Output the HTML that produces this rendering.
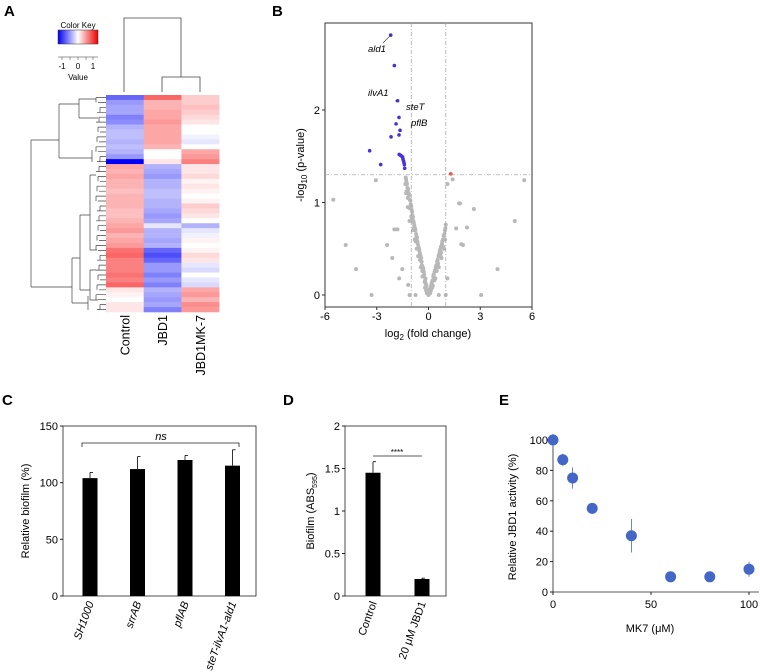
<!DOCTYPE html>
<html><head><meta charset="utf-8"><style>
body{margin:0;background:#fff;}
svg{display:block;font-family:"Liberation Sans",Arial,sans-serif;}
</style></head><body>
<svg id="fig" width="760" height="672" viewBox="0 0 760 672" xmlns="http://www.w3.org/2000/svg">
<g id="panelA"></g>
<g id="panelB"></g>
<g id="panelC"></g>
<g id="panelD"></g>
<g id="panelE"></g>
</svg>
<script>
// ---------- DATA ----------
const heatColumns = ["Control","JBD1","JBD1MK-7"];
const heatControl = [-0.6,-0.4,-0.35,-0.35,-0.5,-0.45,-0.3,-0.25,-0.25,-0.3,-0.25,-0.3,-0.4,-1.0,
 0.35,0.3,0.35,0.3,0.3,0.25,0.3,0.3,0.3,0.25,0.25,0.3,0.35,0.4,0.3,0.35,0.4,0.55,0.6,0.5,0.5,0.5,0.55,0.5,0.6,0.1,0.05,0.0,0.1,0.1];
const heatJBD1 = [0.6,0.3,0.3,0.35,0.35,0.4,0.35,0.35,0.35,0.35,0.3,0.0,0.0,0.1,
 -0.3,-0.35,-0.4,-0.3,-0.3,-0.25,-0.25,-0.3,-0.3,-0.35,-0.4,-0.35,-0.1,-0.3,-0.3,-0.35,-0.3,-0.6,-0.7,-0.6,-0.4,-0.4,-0.5,-0.4,-0.5,-0.3,-0.35,-0.4,-0.35,-0.5];
const heatMK7 = [0.2,0.2,0.25,0.2,0.15,0.1,0,0,-0.05,-0.1,0,0.35,0.4,0.5,
 0.1,0.1,0.15,0.05,0.1,0.05,0,0.05,0.2,0.15,0.1,0,-0.3,-0.1,-0.05,0.05,0,0.05,0.15,0.1,-0.1,-0.15,0,-0.1,-0.15,0.35,0.4,0.3,0.45,0.4];

const volcXTicks = [-6,-3,0,3,6];
const volcYTicks = [0,1,2];
const sigX = [-2.19,-1.98,-1.79,-1.71,-1.88,-1.65,-1.71,-2.17,-3.41,-2.77,-1.7,-1.62,-1.55,-1.5,-1.48,-1.45,-1.42,-1.4,-1.38];
const sigY = [2.81,2.48,2.10,1.92,1.85,1.78,1.73,1.71,1.56,1.41,1.52,1.51,1.50,1.49,1.47,1.45,1.43,1.41,1.37];
const upX = [1.29];
const upY = [1.31];
const nsX = [-0.05,-0.12,-0.2,-0.25,-0.3,-0.38,-0.42,-0.5,-0.55,-0.62,-0.66,-0.72,-0.78,-0.85,-0.9,-0.95,-1.0,-1.05,-1.12,-1.18,-1.25,-1.3,-0.45,-0.6,-0.75,-0.9,-1.0,-0.35,-0.2,-0.8,
 0.05,0.12,0.2,0.28,0.35,0.42,0.5,0.58,0.65,0.72,0.8,0.88,0.95,1.0,0.6,0.75,0.9,0.4,0.25,0,0.1,-0.1,
 -5.52,-4.8,-4.2,-3.3,-2.4,-2.1,-1.98,-1.8,-1.52,-1.7,-1.18,-1.1,-0.75,0.6,1.0,1.83,2.63,2.23,1.6,2.0,1.1,3.05,4.0,1.1,1.4,-3.05,5.0,5.55,1.77,1.9,-1.3,-1.2,-1.1,
 -0.08,-0.15,-0.1,-0.18,-0.27,-0.33,-0.22,-0.4,-0.47,-0.36,-0.53,-0.58,-0.5,-0.64,-0.7,-0.68,-0.76,-0.82,-0.74,-0.88,-0.93,-0.86,-0.98,-1.03,-0.96,-1.08,-1.15,-1.1,-1.22,-1.28,-1.2,-1.32,-1.27,-1.34,
 0.08,0.15,0.1,0.18,0.24,0.3,0.22,0.38,0.45,0.35,0.53,0.48,0.62,0.56,0.68,0.7,0.78,0.74,0.84,0.86,0.92,0.98,0.96,0.02,-0.02,0.06,-0.04,0.14,-0.14];
const nsY = [0.03,0.1,0.15,0.22,0.28,0.32,0.4,0.45,0.5,0.55,0.62,0.66,0.72,0.78,0.84,0.9,0.96,1.02,1.08,1.14,1.2,1.25,0.3,0.42,0.58,0.7,0.85,0.2,0.08,0.6,
 0.03,0.08,0.14,0.2,0.25,0.3,0.36,0.42,0.47,0.52,0.58,0.64,0.7,0.76,0.3,0.4,0.5,0.18,0.1,0,0.02,0.02,
 1.03,0.54,0.28,0,0.54,0.4,0.71,0.71,0.28,0.18,0.11,0,0,0,0,0.99,0.93,0.73,0.72,0.54,0.18,0,0.28,1.2,1.25,1.24,0.8,1.24,0.99,0.55,1.1,0.95,0.8,
 0.06,0.12,0.05,0.18,0.25,0.3,0.14,0.36,0.43,0.26,0.48,0.52,0.38,0.58,0.63,0.5,0.7,0.75,0.6,0.8,0.86,0.72,0.92,0.98,0.82,1.03,1.1,0.94,1.16,1.22,1.05,1.27,1.12,1.2,
 0.05,0.1,0.03,0.12,0.16,0.22,0.08,0.27,0.32,0.16,0.38,0.26,0.44,0.34,0.49,0.42,0.55,0.46,0.6,0.52,0.66,0.72,0.6,0.01,0.01,0.03,0.03,0.05,0.05];

const cCats = ["SH1000","srrAB","pflAB","steT-ilvA1-ald1"];
const cVals = [104,112,120,115];
const cErr = [5,11,4,14];
const cTicks = [0,50,100,150];

const dCats = ["Control","20 μM JBD1"];
const dVals = [1.45,0.2];
const dErr = [0.13,0.01];
const dTicks = [0,0.5,1,1.5,2];

const eX = [0,5,10,20,40,60,80,100];
const eY = [100,87,75,55,37,10,10,15];
const eErr = [4,4,7,2,11,1,1,5];
const eXTicks = [0,50,100];
const eYTicks = [0,20,40,60,80,100];

// ---------- HELPERS ----------
const NS="http://www.w3.org/2000/svg";
function mk(parent, tag, attrs, text){
  const e=document.createElementNS(NS,tag);
  for(const k in attrs) e.setAttribute(k,attrs[k]);
  if(text!==undefined) e.textContent=text;
  parent.appendChild(e); return e;
}
function heatColor(v){
  v=Math.max(-1,Math.min(1,v));
  let r,g,b;
  if(v<0){const t=-v; r=255-255*t; g=255-255*t; b=255-(255-210)*t*0.2;}
  else {const t=v; r=255-(255-225)*t*0.3; g=255-255*t; b=255-255*t;}
  return `rgb(${Math.round(r)},${Math.round(g)},${Math.round(b)})`;
}
const svg=document.getElementById('fig');
function panelLabel(t,x,y){
  const e=mk(svg,'text',{x:x,y:y,'font-size':15,'font-weight':'bold'},t);
  
  
}
panelLabel('A',4,16); panelLabel('B',272,16); panelLabel('C',2,405); panelLabel('D',283,405); panelLabel('E',499,405);

// ---------- PANEL A ----------
(function(){
  const g=document.getElementById('panelA');
  const defs=mk(svg,'defs',{});
  const lg=mk(defs,'linearGradient',{id:'ck',x1:0,x2:1,y1:0,y2:0});
  mk(lg,'stop',{offset:'0%','stop-color':'#0000ee'});
  mk(lg,'stop',{offset:'50%','stop-color':'#ffffff'});
  mk(lg,'stop',{offset:'100%','stop-color':'#ee0000'});
  const key=mk(g,'rect',{x:58,y:30,width:40,height:14,fill:'url(#ck)',stroke:'#333','stroke-width':0.5});
  
  
  mk(g,'text',{x:78,y:28,'font-size':8,'text-anchor':'middle'},'Color Key');
  [[-1,62],[0,78],[1,93]].forEach(([v,x])=>{
    mk(g,'line',{x1:x,x2:x,y1:57,y2:60,stroke:'#333','stroke-width':0.5});
    mk(g,'text',{x:x,y:69,'font-size':8,'text-anchor':'middle'},String(v));
  });
  [70,86].forEach(x=>mk(g,'line',{x1:x,x2:x,y1:57,y2:60,stroke:'#333','stroke-width':0.5}));
  mk(g,'line',{x1:58,x2:98,y1:57,y2:57,stroke:'#333','stroke-width':0.5});
  mk(g,'text',{x:78,y:80,'font-size':8,'text-anchor':'middle'},'Value');

  const x0=106, colW=37.7, y0=95, y1=312;
  const cols=[heatControl,heatJBD1,heatMK7];
  const n=heatControl.length, rh=(y1-y0)/n;
  cols.forEach((arr,ci)=>{
    arr.forEach((v,ri)=>{
      const r=mk(g,'rect',{x:x0+ci*colW,y:y0+ri*rh,width:colW+0.3,height:rh+0.3,fill:heatColor(v)});
      
      
    });
    const cx=x0+ci*colW+colW/2;
    const t=mk(g,'text',{x:0,y:0,'font-size':12.5,'text-anchor':'end',transform:`translate(${cx+4.5},315) rotate(-90)`},heatColumns[ci]);
    
    
  });
  const cd=mk(g,'path',{d:'M124,92 V18 H181 V77 M162,92 V77 H200 V92',fill:'none',stroke:'#444','stroke-width':0.8});
  
  
  let d='M31,140 V287 M31,140 H59 M31,287 H72 M59,104 V158 M59,104 H79 M59,158 H92 M79,99 V118 M79,99 H88 M79,118 H95 M92,150 V162 M72,258 V303 M72,258 H80 M72,303 H88 M80,215 V290 M80,215 H90 M80,290 H90 M90,175 V250 M90,270 V300 M88,296 V310';
  for(let i=0;i<n;i++){
    const yy=y0+(i+0.5)*rh;
    const xs=96+((i*7)%5);
    d+=` M${xs},${yy.toFixed(1)} H${x0}`;
    if(i%2===0 && i+1<n) d+=` M${xs},${yy.toFixed(1)} V${(yy+rh).toFixed(1)}`;
  }
  d+=' M90,175 H96 M90,250 H97 M90,270 H96 M90,300 H98 M88,99 H96 M95,118 H98';
  const rd=mk(g,'path',{d:d,fill:'none',stroke:'#444','stroke-width':0.7});
  
  
})();

// ---------- PANEL B ----------
(function(){
  const g=document.getElementById('panelB');
  const L=325,R=532,T=23,B=307;
  const sx=v=>428.5+v*17.25, sy=v=>295-v*92.5;
  const box=mk(g,'rect',{x:L,y:T,width:R-L,height:B-T,fill:'none',stroke:'#333','stroke-width':1});
  
  
  nsX.forEach((v,i)=>{
    const c=mk(g,'circle',{cx:sx(v),cy:sy(nsY[i]),r:2,fill:'#b8b8b8'});
    
    
  });
  [-1,1].forEach(v=>mk(g,'line',{x1:sx(v),x2:sx(v),y1:T,y2:B,stroke:'#aaa','stroke-width':0.8,'stroke-dasharray':'4,2,1,2'}));
  mk(g,'line',{x1:L,x2:R,y1:sy(1.3),y2:sy(1.3),stroke:'#aaa','stroke-width':0.8,'stroke-dasharray':'4,2,1,2'});
  sigX.forEach((v,i)=>{
    const c=mk(g,'circle',{cx:sx(v),cy:sy(sigY[i]),r:1.8,fill:'#4433dd'});
    
    
  });
  upX.forEach((v,i)=>{
    const c=mk(g,'circle',{cx:sx(v),cy:sy(upY[i]),r:1.8,fill:'#ee5555'});
    
    
  });
  [['ald1',0,368,52,383,43],['ilvA1',2,368,96,395,101],['steT',3,406,110,399,117],['pflB',5,411,126,401,129]].forEach(([t,i,tx,ty,lx,ly])=>{
    mk(g,'line',{x1:lx,y1:ly,x2:sx(sigX[i]),y2:sy(sigY[i]),stroke:'#333','stroke-width':0.6});
    const e=mk(g,'text',{x:tx,y:ty,'font-size':9.5,'font-style':'italic'},t);
    
    
  });
  volcXTicks.forEach(v=>{
    mk(g,'line',{x1:sx(v),x2:sx(v),y1:B,y2:B+3,stroke:'#333'});
    mk(g,'text',{x:sx(v),y:B+13,'font-size':11,'text-anchor':'middle'},String(v));
  });
  volcYTicks.forEach(v=>{
    mk(g,'line',{x1:L-3,x2:L,y1:sy(v),y2:sy(v),stroke:'#333'});
    mk(g,'text',{x:L-5,y:sy(v)+4,'font-size':11,'text-anchor':'end'},String(v));
  });
  const xl=mk(g,'text',{x:428,y:337,'font-size':11,'text-anchor':'middle'});
  xl.innerHTML='log<tspan font-size="8" dy="3">2</tspan><tspan dy="-3"> (fold change)</tspan>';
  
  
  const yl=mk(g,'text',{x:0,y:0,'font-size':11,'text-anchor':'middle',transform:'translate(304,165) rotate(-90)'});
  yl.innerHTML='-log<tspan font-size="8" dy="3">10</tspan><tspan dy="-3"> (p-value)</tspan>';
  
  
})();

// ---------- PANEL C ----------
(function(){
  const g=document.getElementById('panelC');
  const L=63,R=256,T=426,B=596;
  const sy=v=>B-v*(B-T)/150;
  const box=mk(g,'rect',{x:L,y:T,width:R-L,height:B-T,fill:'none',stroke:'#222','stroke-width':0.8});
  
  
  const step=(R-L)/4;
  cCats.forEach((c,i)=>{
    const cx=L+27+i*47.5;
    mk(g,'line',{x1:cx,x2:cx,y1:sy(cVals[i]),y2:sy(cVals[i]+cErr[i]),stroke:'#000','stroke-width':0.8});
    mk(g,'line',{x1:cx,x2:cx+3,y1:sy(cVals[i]+cErr[i]),y2:sy(cVals[i]+cErr[i]),stroke:'#000','stroke-width':0.8});
    const b=mk(g,'rect',{x:cx-7.5,y:sy(cVals[i]),width:15,height:B-sy(cVals[i]),fill:'#000'});
    
    
    mk(g,'text',{x:0,y:0,'font-size':11,'font-style':'italic','text-anchor':'end',transform:`translate(${cx+4},${B+7}) rotate(-70)`},c);
  });
  cTicks.forEach(v=>{
    mk(g,'line',{x1:L-3,x2:L,y1:sy(v),y2:sy(v),stroke:'#222'});
    mk(g,'text',{x:L-5,y:sy(v)+4,'font-size':11,'text-anchor':'end'},String(v));
  });
  mk(g,'path',{d:`M82,447 V443 H239 V447`,fill:'none',stroke:'#222','stroke-width':0.8});
  mk(g,'text',{x:161,y:440,'font-size':11,'font-style':'italic','text-anchor':'middle'},'ns');
  const yl=mk(g,'text',{x:0,y:0,'font-size':11,'text-anchor':'middle',transform:'translate(29,511) rotate(-90)'},'Relative biofilm (%)');
  
  
})();

// ---------- PANEL D ----------
(function(){
  const g=document.getElementById('panelD');
  const L=345,R=446,T=426,B=596;
  const sy=v=>B-v*(B-T)/2;
  const box=mk(g,'rect',{x:L,y:T,width:R-L,height:B-T,fill:'none',stroke:'#222','stroke-width':0.8});
  
  
  const centers=[373,422];
  dCats.forEach((c,i)=>{
    const cx=centers[i];
    mk(g,'line',{x1:cx,x2:cx,y1:sy(dVals[i]),y2:sy(dVals[i]+dErr[i]),stroke:'#000','stroke-width':0.8});
    mk(g,'line',{x1:cx,x2:cx+3,y1:sy(dVals[i]+dErr[i]),y2:sy(dVals[i]+dErr[i]),stroke:'#000','stroke-width':0.8});
    const b=mk(g,'rect',{x:cx-7.5,y:sy(dVals[i]),width:15,height:B-sy(dVals[i]),fill:'#000'});
    
    
    mk(g,'text',{x:0,y:0,'font-size':11,'text-anchor':'end',transform:`translate(${cx+4},${B+7}) rotate(-70)`},c);
  });
  dTicks.forEach(v=>{
    mk(g,'line',{x1:L-3,x2:L,y1:sy(v),y2:sy(v),stroke:'#222'});
    mk(g,'text',{x:L-5,y:sy(v)+4,'font-size':11,'text-anchor':'end'},String(v));
  });
  mk(g,'line',{x1:373,x2:422,y1:456,y2:456,stroke:'#222','stroke-width':0.8});
  mk(g,'text',{x:397,y:455,'font-size':8,'text-anchor':'middle'},'****');
  const yl=mk(g,'text',{x:0,y:0,'font-size':11,'text-anchor':'middle',transform:'translate(314,511) rotate(-90)'});
  yl.innerHTML='Biofilm (ABS<tspan font-size="7" dy="3">595</tspan><tspan dy="-3">)</tspan>';
  
  
})();

// ---------- PANEL E ----------
(function(){
  const g=document.getElementById('panelE');
  const L=553,B=592;
  const sx=v=>L+v*1.96, sy=v=>B-v*1.52;
  mk(g,'line',{x1:L,x2:759,y1:B,y2:B,stroke:'#222','stroke-width':0.8});
  mk(g,'line',{x1:L,x2:L,y1:B,y2:435,stroke:'#222','stroke-width':0.8});
  eXTicks.forEach(v=>{
    mk(g,'line',{x1:sx(v),x2:sx(v),y1:B,y2:B+3,stroke:'#222'});
    mk(g,'text',{x:sx(v),y:B+16,'font-size':11,'text-anchor':'middle'},String(v));
  });
  eYTicks.forEach(v=>{
    mk(g,'line',{x1:L-3,x2:L,y1:sy(v),y2:sy(v),stroke:'#222'});
    mk(g,'text',{x:L-5,y:sy(v)+4,'font-size':11,'text-anchor':'end'},String(v));
  });
  eX.forEach((v,i)=>{
    mk(g,'line',{x1:sx(v),x2:sx(v),y1:sy(eY[i]-eErr[i]),y2:sy(eY[i]+eErr[i]),stroke:'#4a68c6','stroke-width':0.8});
    const c=mk(g,'circle',{cx:sx(v),cy:sy(eY[i]),r:5.5,fill:'#4466c6'});
    
    
  });
  const xl=mk(g,'text',{x:650,y:632,'font-size':11,'text-anchor':'middle'},'MK7 (μM)');
  
  
  const yl=mk(g,'text',{x:0,y:0,'font-size':11,'text-anchor':'middle',transform:'translate(516,517) rotate(-90)'},'Relative JBD1 activity (%)');
  
  
})();
</script>
</body></html>
